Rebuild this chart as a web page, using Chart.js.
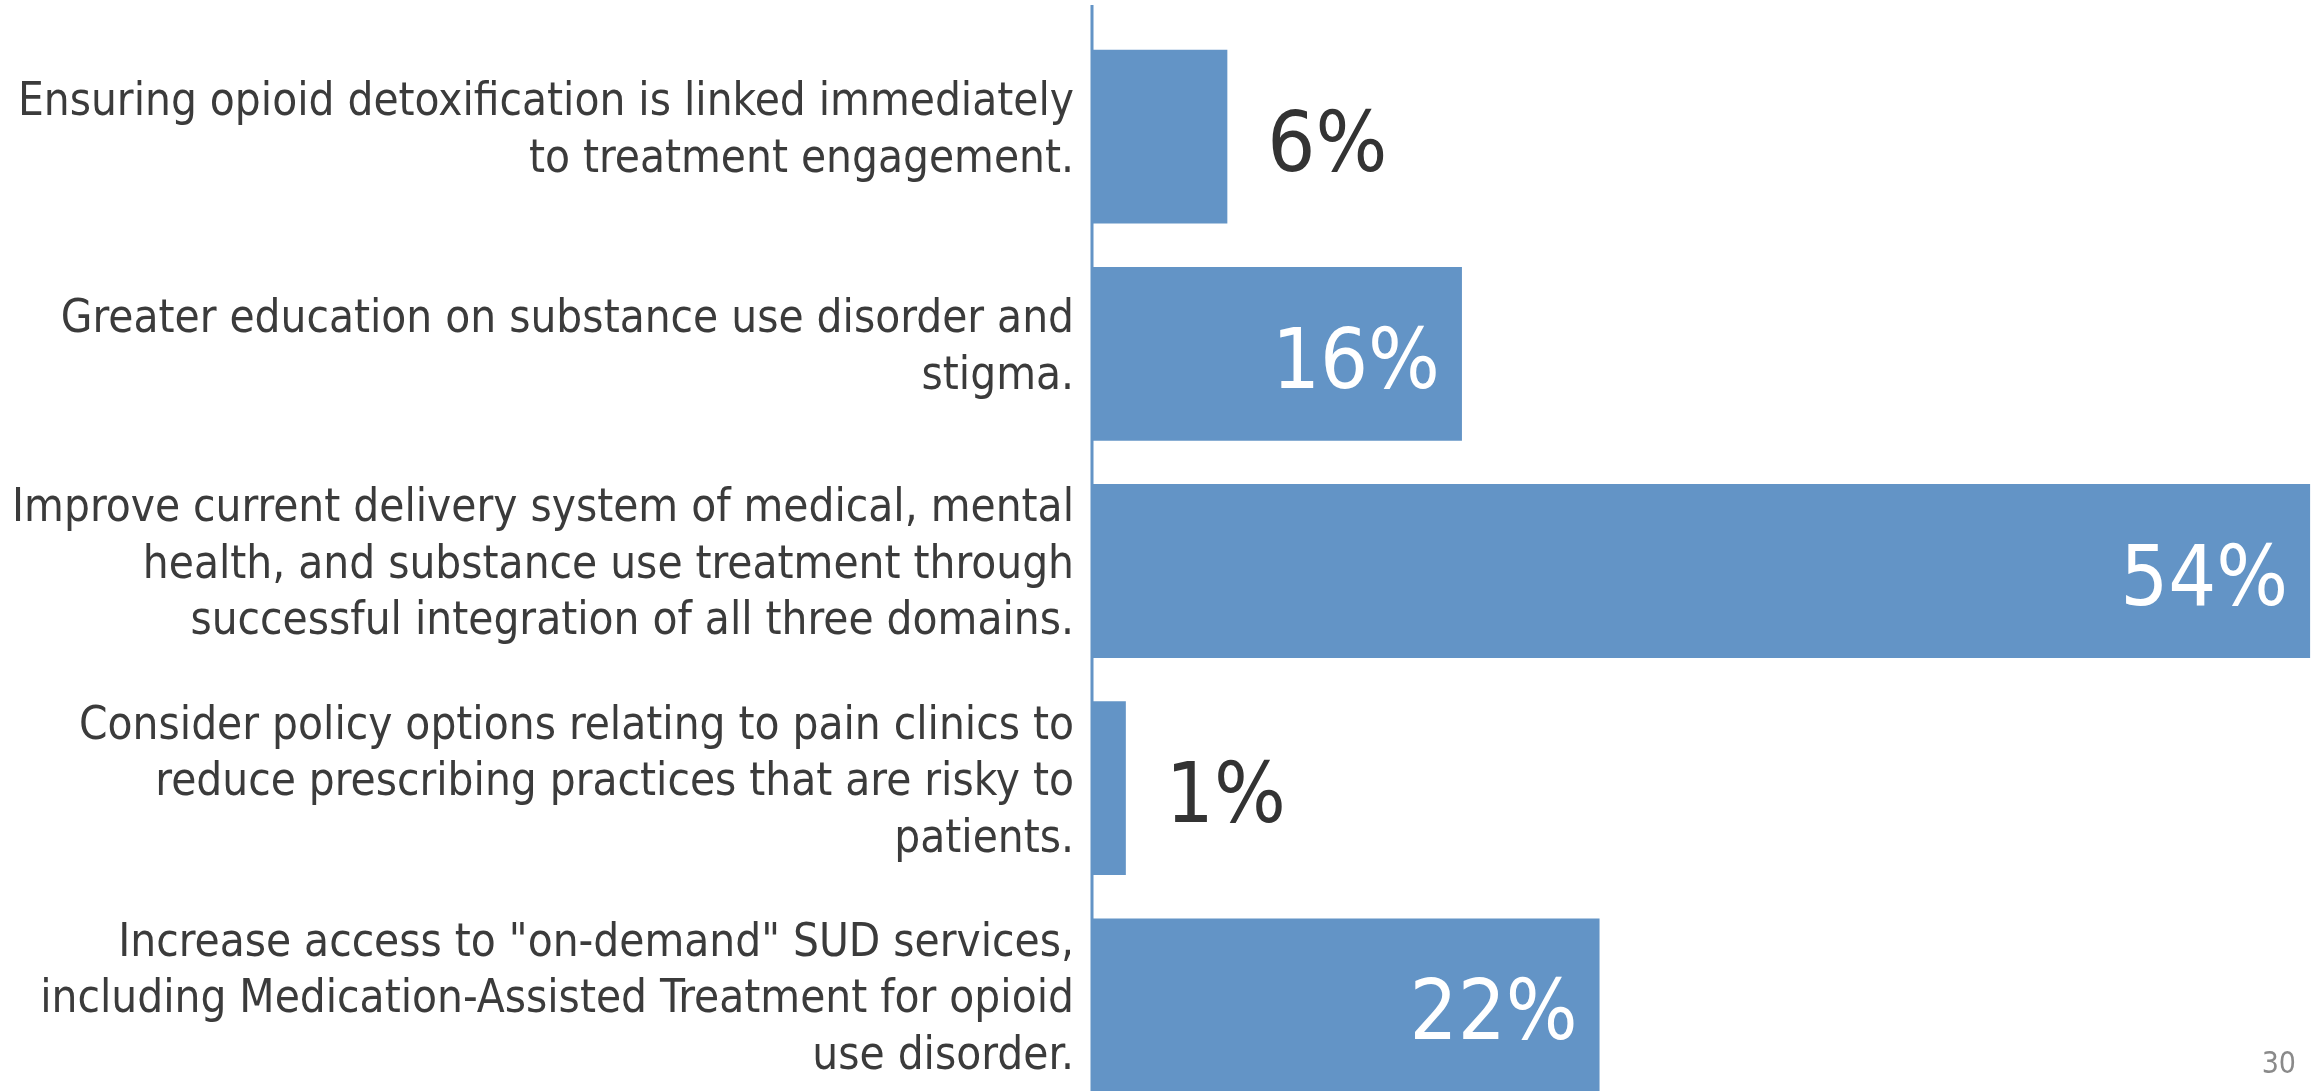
<!DOCTYPE html>
<html>
<head>
<meta charset="utf-8">
<script src="https://cdn.jsdelivr.net/npm/chart.js@4.4.1/dist/chart.umd.min.js"></script>
<style>
html, body { margin: 0; padding: 0; background: #fff; overflow: hidden; }
#wrap { position: relative; width: 2318px; height: 1091px; overflow: hidden; }
#myChart { display: block; }
#page { position: absolute; right: 22px; top: 1045px; font-size: 30px; color: #8a8a8a;
  font-family: "Liberation Sans Narrow", "DejaVu Sans Condensed", Roboto, sans-serif; }
</style>
</head>
<body>
<div id="wrap">
  <canvas id="myChart" width="2318" height="1120"></canvas>
  <div id="page">30</div>
</div>
<script>
// Slide 30 - recommended priorities
const FONT = '"Liberation Sans Narrow", "DejaVu Sans Condensed", Roboto, sans-serif';

const categories = [
    ['Ensuring opioid detoxification is linked immediately', 'to treatment engagement.'],
    ['Greater education on substance use disorder and', 'stigma.'],
    ['Improve current delivery system of medical, mental', 'health, and substance use treatment through', 'successful integration of all three domains.'],
    ['Consider policy options relating to pain clinics to', 'reduce prescribing practices that are risky to', 'patients.'],
    ['Increase access to "on-demand" SUD services,', 'including Medication-Assisted Treatment for opioid', 'use disorder.']
];
const shares = [6.0, 16.4, 54.0, 1.5, 22.5];
const shareLabels = ['6%', '16%', '54%', '1%', '22%'];

const barColor = '#6394c6';

// size the category text so the longest line takes the same width as on the slide
const probe = document.createElement('canvas').getContext('2d');
probe.font = '100px ' + FONT;
let widest = 0;
categories.forEach(lines => lines.forEach(l => {
    widest = Math.max(widest, probe.measureText(l).width);
}));
const labelSize = Math.min(47, 100 * 1062 / widest);

const axisLine = {
    id: 'axisLine',
    beforeDatasetsDraw(chart) {
        const ctx = chart.ctx;
        const x0 = chart.scales.x.getPixelForValue(0);
        ctx.save();
        ctx.strokeStyle = barColor;
        ctx.lineWidth = 3;
        ctx.beginPath();
        ctx.moveTo(x0, 5);
        ctx.lineTo(x0, chart.height);
        ctx.stroke();
        ctx.restore();
    }
};

const valueLabels = {
    id: 'valueLabels',
    afterDatasetsDraw(chart) {
        const ctx = chart.ctx;
        const meta = chart.getDatasetMeta(0);
        ctx.save();
        ctx.font = '84px ' + FONT;
        ctx.textBaseline = 'alphabetic';
        meta.data.forEach((bar, i) => {
            const inside = shares[i] >= 10;
            ctx.fillStyle = inside ? '#ffffff' : '#333333';
            ctx.textAlign = inside ? 'right' : 'left';
            const x = inside ? bar.x - 22 : bar.x + 40;
            ctx.fillText(shareLabels[i], x, bar.y + 34);
        });
        ctx.restore();
    }
};

Chart.defaults.font.family = FONT;

new Chart(document.getElementById('myChart'), {
    type: 'bar',
    data: {
        labels: categories,
        datasets: [{
            data: shares,
            backgroundColor: barColor,
            barPercentage: 0.8,
            categoryPercentage: 1.0
        }]
    },
    options: {
        indexAxis: 'y',
        responsive: false,
        animation: false,
        events: [],
        layout: { padding: { top: 28, bottom: 6, left: 0, right: 0 } },
        plugins: {
            legend: { display: false },
            tooltip: { enabled: false }
        },
        scales: {
            x: {
                display: false,
                min: 0,
                max: 54.35
            },
            y: {
                grid: { display: false, drawTicks: false },
                border: { display: false },
                afterFit(scale) {
                    scale.width = 1092;
                    scale.paddingTop = 0;
                    scale.paddingBottom = 0;
                },
                ticks: {
                    color: '#3b3b3b',
                    padding: 18,
                    labelOffset: -5,
                    font: { size: labelSize, lineHeight: 56.5 / labelSize }
                }
            }
        }
    },
    plugins: [axisLine, valueLabels]
});
</script>
</body>
</html>
